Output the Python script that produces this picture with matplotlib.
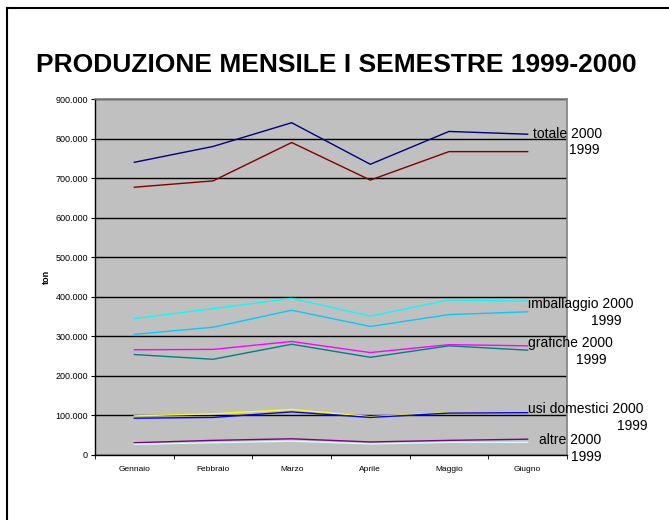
import matplotlib
matplotlib.use("Agg")
import matplotlib.pyplot as plt
from matplotlib.ticker import FuncFormatter, FixedLocator

plt.rcParams["font.family"] = ["Liberation Sans", "DejaVu Sans"]

mesi = ["Gennaio", "Febbraio", "Marzo", "Aprile", "Maggio", "Giugno"]

totale_2000 = [740000, 780000, 840000, 735000, 818000, 811000]
totale_1999 = [677000, 693000, 790000, 695000, 767000, 767000]
imballaggio_2000 = [345000, 370000, 396000, 351000, 392000, 389000]
imballaggio_1999 = [305000, 323000, 366000, 325000, 355000, 362000]
grafiche_2000 = [266000, 267000, 287000, 259000, 279000, 276000]
grafiche_1999 = [254000, 242000, 280000, 247000, 276000, 265000]
usi_dom_2000 = [99000, 104000, 115000, 97000, 107000, 107000]
usi_dom_1999 = [93000, 95000, 109000, 95000, 106000, 107000]
altre_2000 = [31000, 37000, 41000, 33000, 37000, 40000]
altre_1999 = [27000, 31000, 35000, 28000, 32000, 32000]

serie = [
    (totale_2000, "#000080"),
    (totale_1999, "#800000"),
    (imballaggio_2000, "#00FFFF"),
    (imballaggio_1999, "#00CCFF"),
    (grafiche_2000, "#FF00FF"),
    (grafiche_1999, "#008080"),
    (usi_dom_2000, "#FFFF00"),
    (usi_dom_1999, "#0000FF"),
    (altre_2000, "#800080"),
    (altre_1999, "#CCFFFF"),
]

fig = plt.figure(figsize=(6.69, 5.2), dpi=100)
ax = fig.add_axes([0.142, 0.125, 0.7055, 0.6846])
ax.set_facecolor("#C0C0C0")

x = list(range(len(mesi)))
for vals, col in serie:
    ax.plot(x, vals, color=col, lw=1.0, zorder=3)

ax.set_xlim(-0.5, len(mesi) - 0.5)
ax.set_ylim(0, 900000)
ax.set_yticks(range(0, 900001, 100000))
ax.yaxis.set_major_formatter(FuncFormatter(
    lambda v, p: "0" if v == 0 else f"{int(v):,}".replace(",", ".")))
ax.set_xticks(x)
ax.set_xticklabels(mesi)
ax.xaxis.set_minor_locator(FixedLocator([i + 0.5 for i in range(-1, len(mesi))]))
ax.tick_params(axis="x", which="major", length=0, labelsize=6, pad=8)
ax.tick_params(axis="x", which="minor", length=3, direction="out")
ax.tick_params(axis="y", length=3, direction="out", labelsize=6.5, pad=2)
ax.grid(axis="y", color="black", lw=1.0, zorder=1)
ax.set_axisbelow(True)
for s in ("top", "right"):
    ax.spines[s].set_color("#808080")
    ax.spines[s].set_linewidth(1.2)
for s in ("left", "bottom"):
    ax.spines[s].set_color("black")
    ax.spines[s].set_linewidth(1.0)
ax.set_ylabel("ton", fontsize=6.5, fontweight="bold", labelpad=3)

# etichette delle serie a destra
lab = dict(fontsize=10, clip_on=False, va="center", zorder=5)
ax.text(5.07, 811000, "totale 2000", **lab)
ax.text(5.52, 770000, "1999", **lab)
ax.text(5.01, 382000, "imballaggio 2000", **lab)
ax.text(5.80, 340000, "1999", **lab)
ax.text(5.00, 283000, "grafiche 2000", **lab)
ax.text(5.62, 240000, "1999", **lab)
ax.text(5.00, 116000, "usi domestici 2000", **lab)
ax.text(6.14, 73000, "1999", **lab)
ax.text(5.15, 38000, "altre 2000", **lab)
ax.text(5.55, -6000, "1999", **lab)

fig.text(0.503, 0.875, "PRODUZIONE MENSILE I SEMESTRE 1999-2000",
         ha="center", va="center", fontsize=19, fontweight="bold")

# cornice della diapositiva (solo lato sinistro e superiore visibili)
fig.add_artist(plt.Line2D([0.0105, 0.0105], [0.0, 0.985], color="black", lw=1.5,
                          transform=fig.transFigure))
fig.add_artist(plt.Line2D([0.0105, 1.0], [0.985, 0.985], color="black", lw=1.5,
                          transform=fig.transFigure))

fig.savefig("out.png", dpi=100)
